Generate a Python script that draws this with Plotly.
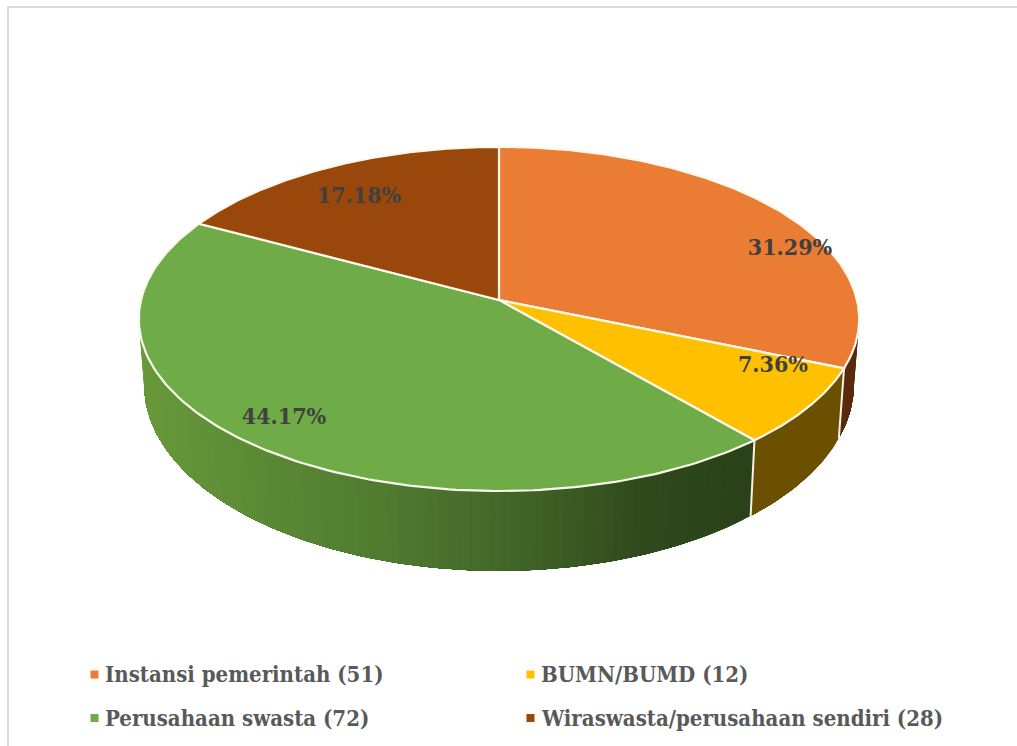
import numpy as np
import plotly.graph_objects as go

categories = ["Instansi pemerintah", "BUMN/BUMD", "Perusahaan swasta", "Wiraswasta/perusahaan sendiri"]
counts = [51, 12, 72, 28]
pct_labels = ["31.29%", "7.36%", "44.17%", "17.18%"]
top_colors = ["#EA7D33", "#FFC000", "#6FAB46", "#9A470C"]
label_xy = [(790, 249), (773, 366), (284, 418), (359, 197)]
legend_xy = [(94.5, 674.5), (530.5, 674.5), (94.5, 718), (530.5, 718)]

# shading of the side wall: stops over screen x, for each slice
side_stops = {
    0: ([140, 860], ["#5A2A0E", "#5A2A0E"]),
    1: ([140, 860], ["#6B5000", "#6B5000"]),
    2: ([140, 250, 400, 550, 650, 755], ["#6A993B", "#5C8C36", "#4F7A30", "#3E6025", "#30491D", "#2A4219"]),
    3: ([140, 860], ["#5A2A0E", "#5A2A0E"]),
}

FONT = "DejaVu Serif Condensed, DejaVu Serif"
CX, CY, A, B, K = 499.0, 300.0, 358.0, 170.0, 0.11


def top_ring(t):
    u, v = np.sin(t), np.cos(t)
    d = 1 + K * v
    return CX + A * u / d, CY - B * v / d


def low_ring(t):
    x, y = top_ring(t)
    return CX + 0.985 * (x - CX), CY + 1.08 * (y - CY) + 64.5


def hex_rgb(h):
    return [int(h[i:i + 2], 16) for i in (1, 3, 5)]


def side_color(i, x):
    xs, cs = side_stops[i]
    rgb = np.array([hex_rgb(c) for c in cs], float)
    return "rgb(%d,%d,%d)" % tuple(np.interp(x, xs, rgb[:, j]) for j in range(3))


fractions = np.array(counts) / sum(counts)
edges = np.concatenate([[0], np.cumsum(fractions)]) * 2 * np.pi

fig = go.Figure()

# side wall, drawn in overlapping bands so no seams show between them
V0, V1 = np.radians(75), np.radians(285)
for i in range(4):
    a, b = max(edges[i], V0), min(edges[i + 1], V1)
    if b <= a:
        continue
    n = max(1, int((b - a) / np.radians(1.5)))
    ts = np.linspace(a, b, n + 1)
    for j in range(n):
        # each band runs to the far end of its slice; later bands paint over it
        tt = np.linspace(ts[j], b, max(4, 2 * (n - j) + 2))
        xt, yt = top_ring(tt)
        xb, yb = low_ring(tt[::-1])
        col = side_color(i, top_ring(ts[j])[0])
        fig.add_trace(go.Scatter(x=np.r_[xt, xb, xt[0]], y=np.r_[yt, yb, yt[0]], mode="lines",
                                 line=dict(width=0), fill="toself", fillcolor=col,
                                 hoverinfo="skip", showlegend=False))

# white seams on the wall at the slice boundaries
for e in edges[1:3]:
    xt, yt = top_ring(e)
    xb, yb = low_ring(e)
    fig.add_trace(go.Scatter(x=[xt, xb], y=[yt, yb], mode="lines",
                             line=dict(color="#F6F3E6", width=2), hoverinfo="skip", showlegend=False))

# top face
for i in range(4):
    tt = np.linspace(edges[i], edges[i + 1], 160)
    x, y = top_ring(tt)
    fig.add_trace(go.Scatter(x=np.r_[CX, x, CX], y=np.r_[CY, y, CY], mode="lines",
                             line=dict(color="#FBF8EC", width=2.2), fill="toself", fillcolor=top_colors[i],
                             hoverinfo="skip", showlegend=False))

# percentage labels
fig.add_trace(go.Scatter(x=[p[0] for p in label_xy], y=[p[1] for p in label_xy], mode="text",
                         text=pct_labels, textposition="middle center",
                         textfont=dict(family=FONT, size=23, color="#404040", weight="bold"),
                         hoverinfo="skip", showlegend=False))

# legend
for i, name in enumerate(categories):
    lx, ly = legend_xy[i]
    fig.add_trace(go.Scatter(x=[lx], y=[ly], mode="markers",
                             marker=dict(symbol="square", size=8, color=top_colors[i]),
                             hoverinfo="skip", showlegend=False))
    fig.add_annotation(x=lx + 8.5, y=ly - 0.5, xref="x", yref="y", xanchor="left", yanchor="middle", showarrow=False,
                       text=f"{name} ({counts[i]})",
                       font=dict(family=FONT, size=22, color="#595959", weight="bold"))

fig.add_shape(type="line", x0=7, x1=1017, y0=7, y1=7, line=dict(color="#D9D9D9", width=2))
fig.add_shape(type="line", x0=8, x1=8, y0=6, y1=746, line=dict(color="#D9D9D9", width=2))

fig.update_layout(width=1017, height=746, margin=dict(l=0, r=0, t=0, b=0),
                  paper_bgcolor="white", plot_bgcolor="white",
                  xaxis=dict(range=[0, 1017], visible=False, fixedrange=True),
                  yaxis=dict(range=[746, 0], visible=False, fixedrange=True))
fig.write_html("out.html", config=dict(displayModeBar=False),
               post_script="document.body.style.margin='0';document.body.style.overflow='hidden';")
